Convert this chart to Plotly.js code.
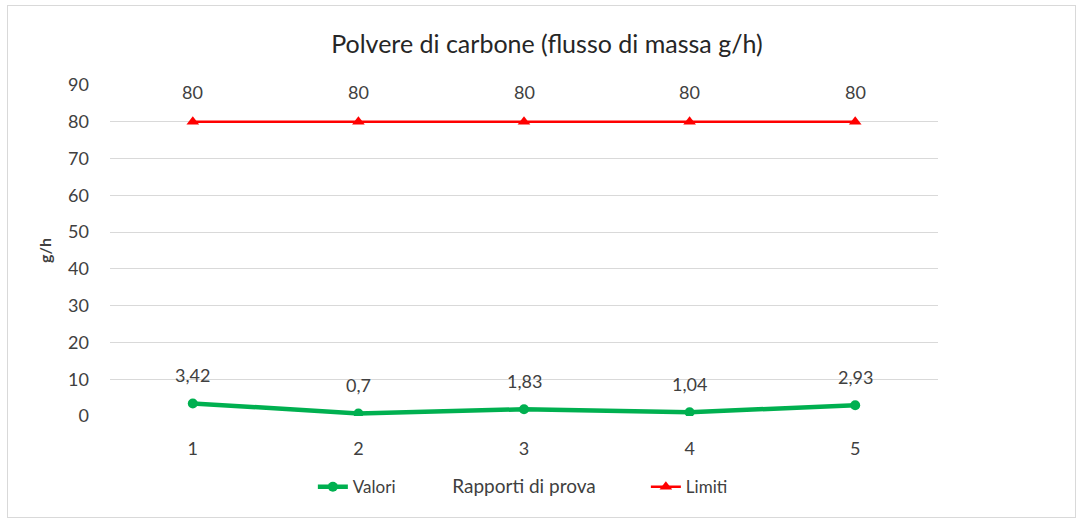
<!DOCTYPE html>
<html><head><meta charset="utf-8">
<script src="https://cdn.plot.ly/plotly-3.0.1.min.js"></script>
<style>
html,body{margin:0;padding:0;background:#fff;}
#wrap{position:relative;width:1083px;height:523px;}
#frame{position:absolute;left:7px;top:5px;width:1069px;height:513px;border:1px solid #d9d9d9;box-sizing:border-box;pointer-events:none;}
#chart{position:absolute;left:0;top:0;width:1083px;height:523px;}
</style></head>
<body><div id="wrap"><div id="chart"></div><div id="frame"></div></div>
<script>
const categories = ['1','2','3','4','5'];
const valori = [3.42, 0.7, 1.83, 1.04, 2.93];
const limiti = [80, 80, 80, 80, 80];
const yTicks = [0,10,20,30,40,50,60,70,80,90];

const FONT = 'Lato, "Open Sans", sans-serif';
const fmt = v => String(v).replace('.', ',');

const traces = [
  {x: categories, y: valori, name: 'Valori', type: 'scatter', mode: 'lines+markers',
   line: {color: '#00B050', width: 4.5}, marker: {symbol: 'circle', size: 10, color: '#00B050'}},
  {x: categories, y: limiti, name: 'Limiti', type: 'scatter', mode: 'lines+markers',
   line: {color: '#FF0000', width: 2.5}, marker: {symbol: 'triangle-up', size: 11, color: '#FF0000'}}
];

const annotations = [];
categories.forEach((c, i) => {
  annotations.push({x: i, y: valori[i], text: fmt(valori[i]), showarrow: false, yshift: 28,
    font: {family: FONT, size: 18, color: '#404040'}});
  annotations.push({x: i, y: limiti[i], text: fmt(limiti[i]), showarrow: false, yshift: 30,
    font: {family: FONT, size: 18, color: '#404040'}});
});

const layout = {
  width: 1083, height: 523,
  margin: {l: 110, r: 145, t: 85, b: 107},
  paper_bgcolor: 'rgba(0,0,0,0)', plot_bgcolor: '#fff',
  font: {family: FONT, color: '#595959', size: 17},
  title: {text: 'Polvere di carbone (flusso di massa g/h)', x: 0.505, xanchor: 'center', y: 0.915, yanchor: 'middle',
    xref: 'container', font: {family: FONT, size: 25, color: '#262626'}},
  xaxis: {type: 'category', range: [-0.5, 4.5], showgrid: false, zeroline: false, showline: false,
    ticks: '', ticklabelstandoff: 20, tickfont: {family: FONT, size: 18, color: '#404040'},
    title: {text: 'Rapporti di prova', standoff: 21, font: {family: FONT, size: 19, color: '#404040'}}},
  yaxis: {range: [0, 90], tickvals: yTicks, showgrid: true, gridcolor: '#d9d9d9', gridwidth: 1,
    zeroline: false, showline: false, ticks: '', ticklabelstandoff: 20,
    tickfont: {family: FONT, size: 18, color: '#404040'},
    title: {text: '<b>g/h</b>', standoff: 12, font: {family: FONT, size: 16, color: '#404040'}}},
  showlegend: true,
  legend: {orientation: 'h', x: 0.245, xanchor: 'left', y: -0.215, yanchor: 'middle',
    entrywidth: 288, entrywidthmode: 'pixels', bgcolor: 'rgba(0,0,0,0)',
    font: {family: FONT, size: 17, color: '#404040'}},
  annotations: annotations
};

Plotly.newPlot('chart', traces, layout, {displayModeBar: false, staticPlot: true});
</script></body></html>
